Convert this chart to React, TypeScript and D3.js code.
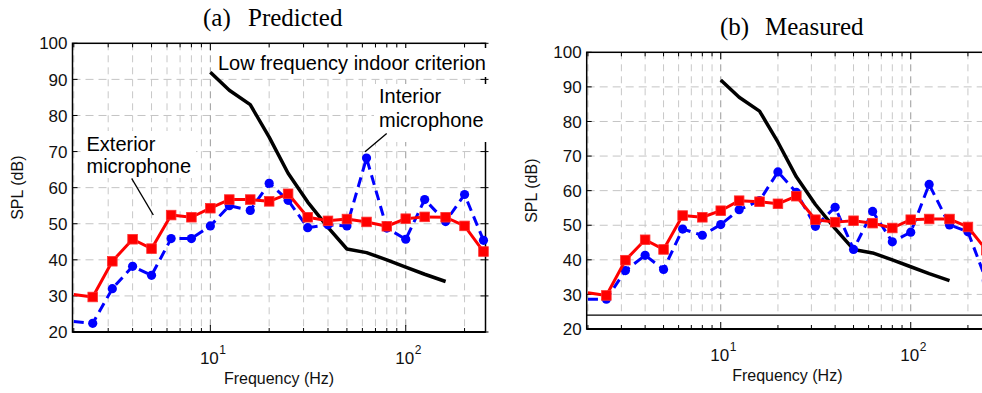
import React from "react";
import * as d3 from "d3";

const FREQS = [2, 2.5, 3.15, 4, 5, 6.3, 8, 10, 12.5, 16, 20, 25, 31.5, 40, 50, 63, 80, 100, 125, 160, 200, 250];
const predExterior = [30.4, 29.7, 39.6, 45.7, 43.1, 52.4, 51.8, 54.3, 56.7, 56.7, 56.2, 58.3, 51.8, 50.8, 51.3, 50.5, 49.3, 51.4, 51.9, 51.8, 49.4, 42.3];
const predInterior = [22.9, 22.4, 32.0, 38.2, 35.7, 45.9, 45.9, 49.4, 55.0, 53.7, 61.2, 56.5, 48.9, 49.7, 49.4, 68.2, 48.8, 45.7, 56.7, 50.6, 58.1, 45.4];
const measExterior = [30.5, 29.7, 39.9, 45.8, 43.0, 52.8, 52.3, 54.2, 57.1, 56.8, 56.2, 58.4, 51.6, 50.9, 51.3, 50.6, 49.2, 51.6, 51.8, 51.8, 49.5, 42.8];
const measInterior = [28.6, 28.6, 36.9, 41.3, 37.2, 48.9, 47.1, 50.2, 54.5, 57.1, 65.4, 59.5, 49.7, 55.2, 43.0, 54.0, 45.2, 48.0, 61.8, 50.1, 48.1, 34.0];
const CRIT_FREQS = [10, 12.5, 16, 20, 25, 31.5, 40, 50, 63, 80, 100, 125, 160];
const criterion = [92, 87, 83, 74, 64, 56, 49, 43, 42, 40, 38, 36, 34];
const Y_TICKS = [20, 30, 40, 50, 60, 70, 80, 90, 100];
const X_MINOR = [2, 3, 4, 5, 6, 7, 8, 9, 10, 20, 30, 40, 50, 60, 70, 80, 90, 100, 200];
const X_MAJOR = [10, 100];
const X_DOMAIN = [1.97, 256];
const Y_DOMAIN = [20, 100];

const SANS = "'Liberation Sans', Arial, sans-serif";
const SERIF = "'Liberation Serif', 'Times New Roman', serif";

type PanelProps = {
  x0: number; x1: number; yTop: number; yBot: number;
  exterior: number[]; interior: number[];
  label: string; title: string; titleX: number; titleY: number; titleGap: number;
  baseLine?: number;
  annotate?: boolean;
  clipId: string;
};

function Panel(p: PanelProps) {
  const x = d3.scaleLog().domain(X_DOMAIN).range([p.x0, p.x1]);
  const y = d3.scaleLinear().domain(Y_DOMAIN).range([p.yBot, p.yTop]);
  const gridBottom = p.baseLine !== undefined ? y(p.baseLine) : p.yBot;
  const line = d3.line<[number, number]>().x((d) => x(d[0])).y((d) => y(d[1]));
  const ext = FREQS.map((f, i) => [f, p.exterior[i]] as [number, number]);
  const int = FREQS.map((f, i) => [f, p.interior[i]] as [number, number]);
  const crit = CRIT_FREQS.map((f, i) => [f, criterion[i]] as [number, number]);
  const tickLabelX = p.x0 - 5;
  const xLabelY = p.yBot + 32;

  return (
    <g>
      {/* grid */}
      {Y_TICKS.filter((t) => t > 20 && t < 100).map((t) => (
        <line key={"h" + t} x1={p.x0} x2={p.x1} y1={y(t)} y2={y(t)} stroke="#c4c4c4" strokeWidth={1} strokeDasharray="8,5" />
      ))}
      {X_MINOR.map((f) => (
        <line key={"v" + f} x1={x(f)} x2={x(f)} y1={p.yTop} y2={gridBottom}
          stroke={X_MAJOR.includes(f) ? "#9a9a9a" : "#c8c8c8"} strokeWidth={1} strokeDasharray="7,5" />
      ))}
      {/* ticks */}
      {X_MINOR.map((f) => {
        const len = X_MAJOR.includes(f) ? 7 : 4;
        return (
          <g key={"t" + f}>
            <line x1={x(f)} x2={x(f)} y1={p.yTop} y2={p.yTop + len} stroke="#000" strokeWidth={1} />
            <line x1={x(f)} x2={x(f)} y1={p.yBot} y2={p.yBot - len} stroke="#000" strokeWidth={1} />
          </g>
        );
      })}
      {Y_TICKS.map((t) => (
        <g key={"yt" + t}>
          <line x1={p.x0} x2={p.x0 + 5} y1={y(t)} y2={y(t)} stroke="#000" strokeWidth={1} />
          <line x1={p.x1 - 5} x2={p.x1 + 3} y1={y(t)} y2={y(t)} stroke="#000" strokeWidth={1} />
          <text x={tickLabelX} y={y(t)} dy="0.36em" textAnchor="end" fontFamily={SANS} fontSize={17} fill="#111">{t}</text>
        </g>
      ))}
      {/* frame */}
      <rect x={p.x0} y={p.yTop} width={p.x1 - p.x0} height={p.yBot - p.yTop} fill="none" stroke="#000" strokeWidth={1.5} />
      <line x1={p.x0} x2={p.x1} y1={p.yBot} y2={p.yBot} stroke="#000" strokeWidth={2} />
      {p.baseLine !== undefined && (
        <line x1={p.x0} x2={p.x1} y1={y(p.baseLine)} y2={y(p.baseLine)} stroke="#000" strokeWidth={1.3} />
      )}

      {/* x tick labels */}
      {X_MAJOR.map((f, i) => (
        <g key={"xl" + f}>
          <text x={x(f) - 1} y={p.yBot + 32} textAnchor="middle" fontFamily={SANS} fontSize={17} fill="#111">10</text>
          <text x={x(f) + 9} y={p.yBot + 22} textAnchor="start" fontFamily={SANS} fontSize={12} fill="#111">{i + 1}</text>
        </g>
      ))}
      <text x={(p.x0 + Math.min(p.x1, 988)) / 2} y={xLabelY + 20} textAnchor="middle" fontFamily={SANS} fontSize={16} fill="#111">Frequency (Hz)</text>
      <text transform={`translate(${p.x0 - 50},${(p.yTop + p.yBot) / 2}) rotate(-90)`} textAnchor="middle" fontFamily={SANS} fontSize={16} fill="#111">SPL (dB)</text>

      {/* title */}
      <text x={p.titleX} y={p.titleY} fontFamily={SERIF} fontSize={25} fill="#000">{p.label}</text>
      <text x={p.titleX + p.titleGap} y={p.titleY} fontFamily={SERIF} fontSize={25} fill="#000">{p.title}</text>

      {/* annotation boxes */}
      {p.annotate && (
        <g>
          <rect x={214} y={48} width={276} height={29} fill="#fff" />
          <rect x={374} y={84} width={116} height={58} fill="#fff" />
          <rect x={83} y={131} width={113} height={47} fill="#fff" />
          <text x={218} y={69.5} fontFamily={SANS} fontSize={20} fill="#000">Low frequency indoor criterion</text>
          <text x={379} y={103} fontFamily={SANS} fontSize={20} fill="#000">Interior</text>
          <text x={379} y={126.5} fontFamily={SANS} fontSize={20} fill="#000">microphone</text>
          <text x={86.5} y={150.7} fontFamily={SANS} fontSize={20} fill="#000">Exterior</text>
          <text x={86.5} y={172.5} fontFamily={SANS} fontSize={20} fill="#000">microphone</text>
          <line x1={386.7} y1={133.5} x2={365} y2={151.7} stroke="#000" strokeWidth={1.4} />
          <line x1={131.7} y1={178.5} x2={153.3} y2={215} stroke="#000" strokeWidth={1.4} />
        </g>
      )}

      {/* data */}
      <path d={line(crit) || ""} fill="none" stroke="#000" strokeWidth={3.5} strokeLinejoin="round" />
      <path d={line(int) || ""} fill="none" stroke="#0000ff" strokeWidth={3} strokeDasharray="10,6" />
      {int.slice(1).map((d, i) => (
        <circle key={"c" + i} cx={x(d[0])} cy={y(d[1])} r={4.6} fill="#0000ff" />
      ))}
      <path d={line(ext) || ""} fill="none" stroke="#ff0000" strokeWidth={3} strokeLinejoin="round" />
      {ext.slice(1).map((d, i) => (
        <rect key={"s" + i} x={x(d[0]) - 4.8} y={y(d[1]) - 4.8} width={9.6} height={9.6} fill="#ff0000" stroke="#ff3030" strokeWidth={0.8} />
      ))}
    </g>
  );
}

export default function App() {
  return (
    <svg width={982} height={393} viewBox="0 0 982 393" style={{ position: "absolute", left: 0, top: 0, background: "#fff" }}>
      <rect x={0} y={0} width={982} height={393} fill="#fff" />
      <Panel x0={72.5} x1={485.5} yTop={43.3} yBot={332} exterior={predExterior} interior={predInterior}
        label="(a)" title="Predicted" titleX={203} titleY={26} titleGap={45} annotate clipId="a" />
      <Panel x0={586.7} x1={988.3} yTop={52.3} yBot={329} exterior={measExterior} interior={measInterior}
        label="(b)" title="Measured" titleX={720} titleY={35} titleGap={45} baseLine={24} clipId="b" />
    </svg>
  );
}
